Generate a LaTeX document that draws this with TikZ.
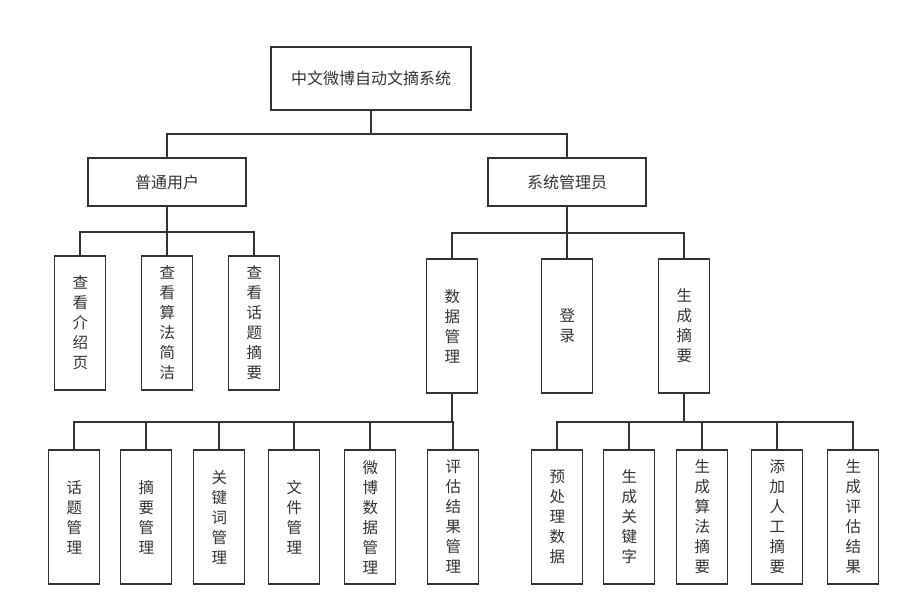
\documentclass[tikz,border=0pt]{standalone}
\usepackage{fontspec}
\setmainfont{Noto Sans CJK SC}
\usetikzlibrary{positioning}
\definecolor{mydark}{RGB}{51,51,51}
\tikzset{
  topbox/.style={rectangle, draw=mydark, line width=1.8pt, text=mydark,
    minimum width=200pt, minimum height=63pt, font=\fontsize{16}{20}\selectfont},
  hbox/.style={rectangle, draw=mydark, line width=1.8pt, text=mydark,
    minimum width=158pt, minimum height=48pt, font=\fontsize{16}{20}\selectfont},
  vbox/.style={rectangle, draw=mydark, line width=1.8pt, text=mydark,
    minimum width=51pt, minimum height=134pt, text width=15pt, inner xsep=0pt,
    align=center, font=\fontsize{15.5}{20}\selectfont},
  link/.style={line width=1.8pt, color=mydark}
}

\begin{document}
\begin{tikzpicture}[x=1pt, y=-1pt]
  \useasboundingbox (0,0) rectangle (911,616);

  % top
  \node[topbox] (sys) at (371, 78.5) {中文微博自动文摘系统};

  % roles
  \node[hbox] (user)  at (167, 182) {普通用户};
  \node[hbox] (admin) at (567, 182) {系统管理员};

  % user functions
  \node[vbox] (intro) at (80, 323)  {查\\看\\介\\绍\\页};
  \node[vbox] (algo)  at (167, 323) {查\\看\\算\\法\\简\\洁};
  \node[vbox] (topic) at (254, 323) {查\\看\\话\\题\\摘\\要};

  % admin functions
  \node[vbox] (data)  at (452, 326) {数\\据\\管\\理};
  \node[vbox] (login) at (567, 326) {登\\录};
  \node[vbox] (gen)   at (684, 326) {生\\成\\摘\\要};

  % data management
  \node[vbox] (tpm) at (74, 517)  {话\\题\\管\\理};
  \node[vbox] (abm) at (146, 517) {摘\\要\\管\\理};
  \node[vbox] (kwm) at (219, 517) {关\\键\\词\\管\\理};
  \node[vbox] (flm) at (294, 517) {文\\件\\管\\理};
  \node[vbox] (wbm) at (370, 517) {微\\博\\数\\据\\管\\理};
  \node[vbox] (evm) at (453, 517) {评\\估\\结\\果\\管\\理};

  % summary generation
  \node[vbox] (pre) at (557, 517) {预\\处\\理\\数\\据};
  \node[vbox] (kwg) at (629, 517) {生\\成\\关\\键\\字};
  \node[vbox] (alg) at (702, 517) {生\\成\\算\\法\\摘\\要};
  \node[vbox] (man) at (777, 517) {添\\加\\人\\工\\摘\\要};
  \node[vbox] (evg) at (853, 517) {生\\成\\评\\估\\结\\果};

  % connectors
  \foreach \c in {user, admin}
    \draw[link] (sys.south) -- ++(0,23) -| (\c.north);
  \foreach \c in {intro, algo, topic}
    \draw[link] (user.south) -- ++(0,25) -| (\c.north);
  \foreach \c in {data, login, gen}
    \draw[link] (admin.south) -- ++(0,26) -| (\c.north);
  \foreach \c in {tpm, abm, kwm, flm, wbm, evm}
    \draw[link] (data.south) -- ++(0,28) -| (\c.north);
  \foreach \c in {pre, kwg, alg, man, evg}
    \draw[link] (gen.south) -- ++(0,28) -| (\c.north);
\end{tikzpicture}
\end{document}
